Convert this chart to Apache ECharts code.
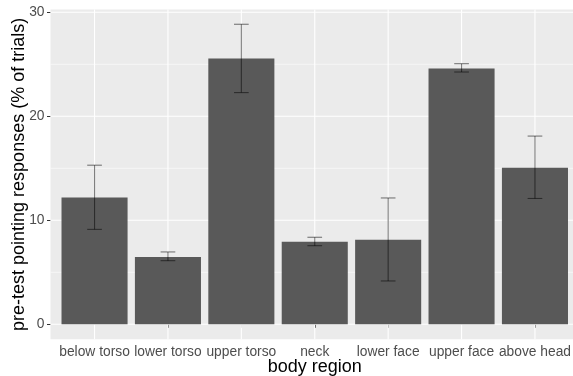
<!DOCTYPE html>
<html><head><meta charset="utf-8">
<script src="https://cdn.jsdelivr.net/npm/echarts@6/dist/echarts.min.js"></script>
<style>html,body{margin:0;padding:0;background:#fff}#c{width:573px;height:376px}</style>
</head><body><div id="c"></div>
<script>
const categories = ['below torso','lower torso','upper torso','neck','lower face','upper face','above head'];
const means = [12.2, 6.47, 25.55, 7.95, 8.14, 24.6, 15.06];
const errLow = [9.13, 6.12, 22.28, 7.56, 4.17, 24.26, 12.1];
const errHigh = [15.3, 6.96, 28.85, 8.37, 12.15, 25.06, 18.1];
const yTicks = [0, 10, 20, 30];
const yMinor = [5, 15, 25];

const xPos = categories.map((c, i) => i + 1);
const FONT = '"Liberation Sans", Arial, sans-serif';

const chart = echarts.init(document.getElementById('c'), null, {renderer: 'canvas'});

const gridData = [];
yTicks.forEach(v => gridData.push(['h', v, 1.1]));
yMinor.forEach(v => gridData.push(['h', v, 0.55]));
xPos.forEach(v => gridData.push(['v', v, 1.1]));

chart.setOption({
  animation: false,
  grid: {left: 50.5, top: 9.5, width: 528.5, height: 329.8, show: true, backgroundColor: '#EBEBEB', borderWidth: 0,
         containLabel: false, outerBoundsMode: 'none'},
  xAxis: {
    type: 'value', min: 0.4, max: 7.6,
    axisLine: {show: false},
    splitLine: {show: false},
    axisTick: {show: true, customValues: xPos, length: 3.5, lineStyle: {color: '#333', width: 1}},
    axisLabel: {customValues: xPos, formatter: v => categories[Math.round(v) - 1] || '', color: '#4D4D4D', fontSize: 13.8, fontFamily: FONT, margin: 6},
    name: 'body region', nameLocation: 'middle', nameGap: 19, nameMoveOverlap: false,
    nameTextStyle: {color: '#000', fontSize: 18, fontFamily: FONT}
  },
  yAxis: {
    type: 'value', min: -1.44, max: 30.27,
    axisLine: {show: false},
    splitLine: {show: false},
    axisTick: {show: true, customValues: yTicks, length: 3.5, lineStyle: {color: '#333', width: 1}},
    axisLabel: {customValues: yTicks, color: '#4D4D4D', fontSize: 13.8, fontFamily: FONT, margin: 6},
    name: 'pre-test pointing responses (% of trials)', nameLocation: 'middle', nameGap: 22, nameMoveOverlap: false,
    nameTextStyle: {color: '#000', fontSize: 18, fontFamily: FONT}
  },
  series: [
    {
      type: 'custom', silent: true, z: 1,
      data: gridData,
      renderItem: (params, api) => {
        const d = gridData[params.dataIndex];
        const cs = params.coordSys;
        let shape;
        if (d[0] === 'h') {
          const y = api.coord([0.4, d[1]])[1];
          shape = {x1: cs.x, y1: y, x2: cs.x + cs.width, y2: y};
        } else {
          const x = api.coord([d[1], 0])[0];
          shape = {x1: x, y1: cs.y, x2: x, y2: cs.y + cs.height};
        }
        return {type: 'line', shape, style: {stroke: '#FFFFFF', lineWidth: d[2]}};
      }
    },
    {
      type: 'custom', silent: true, z: 2,
      data: means.map((m, i) => [xPos[i], m]),
      renderItem: (params, api) => {
        const x = api.value(0), v = api.value(1);
        const p0 = api.coord([x - 0.45, v]);
        const p1 = api.coord([x + 0.45, 0]);
        return {type: 'rect', shape: {x: p0[0], y: p0[1], width: p1[0] - p0[0], height: p1[1] - p0[1]}, style: {fill: '#595959'}};
      }
    },
    {
      type: 'custom', silent: true, z: 3,
      data: means.map((m, i) => [xPos[i], errLow[i], errHigh[i]]),
      renderItem: (params, api) => {
        const x = api.value(0), lo = api.value(1), hi = api.value(2);
        const a = api.coord([x, hi]), b = api.coord([x, lo]);
        const l = api.coord([x - 0.1, hi])[0], r = api.coord([x + 0.1, hi])[0];
        const st = {stroke: 'rgba(0,0,0,0.5)', lineWidth: 1.1};
        return {type: 'group', children: [
          {type: 'line', shape: {x1: a[0], y1: a[1], x2: b[0], y2: b[1]}, style: st},
          {type: 'line', shape: {x1: l, y1: a[1], x2: r, y2: a[1]}, style: st},
          {type: 'line', shape: {x1: l, y1: b[1], x2: r, y2: b[1]}, style: st}
        ]};
      }
    }
  ]
});
</script></body></html>
